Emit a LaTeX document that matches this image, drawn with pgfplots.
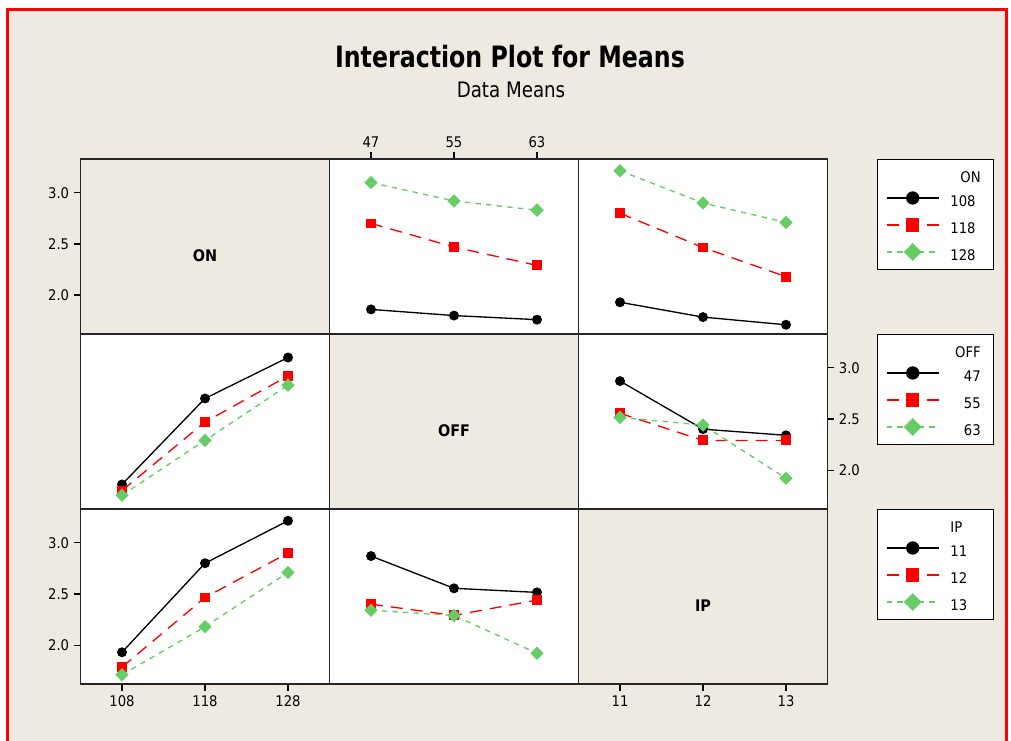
\documentclass[border=0pt]{standalone}
\usepackage{pgfplots}
\pgfplotsset{compat=1.18}
\usepackage{fontspec}
\setmainfont{DejaVu Sans Condensed}
\definecolor{bg}{RGB}{238,234,225}
\definecolor{mgreen}{RGB}{102,204,102}
\definecolor{mred}{RGB}{255,0,0}
\newcommand{\lgl}[1]{\rule[-6.125pt]{0pt}{20.25pt}\hspace*{-1pt}\makebox[32.5pt][l]{#1}}
\newcommand{\lgr}[1]{\rule[-6.125pt]{0pt}{20.25pt}\makebox[21.75pt][r]{#1}\hspace*{9.75pt}}
\pgfplotsset{
  panel/.style={scale only axis, width=186.75pt, height=131.25pt, anchor=south west,
    ymin=1.62, ymax=3.33, xtick=\empty, ytick=\empty,
    axis line style={line width=1.1pt, black!85},
    tick style={line width=0.9pt, black}, major tick length=5pt, tick align=outside,
    tick label style={font=\fontsize{11}{13}\selectfont},
    axis background/.style={fill=white},
    legend cell align=left,
    legend image code/.code={%
      \path[draw=none,fill=none] (-6.75pt,-10.125pt) rectangle (48.75pt,10.125pt);
      \draw[mark repeat=2,mark phase=2,##1,every mark/.append style={scale=1.4}] plot coordinates {(0pt,0pt)(19.5pt,0pt)(39pt,0pt)};},
    legend style={draw=black, line width=1pt, fill=white, at={(1.199,1)}, anchor=north west,
      font=\fontsize{11}{13}\selectfont, inner xsep=0pt, inner ysep=3pt,
      row sep=0pt, column sep=0pt, nodes={inner sep=0pt}},
  },
  diag/.style={panel, axis background/.style={fill=bg}},
  sA/.style={black, line width=1pt, mark=*, mark size=3.2pt, mark options={solid}},
  sB/.style={mred, line width=1pt, dash pattern=on 9pt off 6pt, mark=square*, mark size=3.2pt, mark options={solid}},
  sC/.style={mgreen, line width=1pt, dash pattern=on 4pt off 4pt, mark=diamond*, mark size=4.3pt, mark options={solid,xscale=1.33}},
  onx/.style={xmin=103, xmax=133},
  offx/.style={xmin=43, xmax=67},
  ipx/.style={xmin=10.5, xmax=13.5},
}
\begin{document}
\begin{tikzpicture}
\path[use as bounding box] (0,0) rectangle (758.25pt,555.75pt);
\fill[white] (0,0) rectangle (758.25pt,555.75pt);
\fill[bg] (6.75pt,0) rectangle (753.75pt,547.5pt);
\fill[mred] (4.5pt,0) rectangle (6.75pt,549.75pt);
\fill[mred] (4.5pt,547.5pt) rectangle (756pt,549.75pt);
\fill[mred] (753.75pt,0) rectangle (756pt,549.75pt);

\node at (382.5pt,513pt) {\fontsize{21}{25}\selectfont\bfseries\scalebox{0.94}[1.05]{Interaction Plot for Means}};
\node at (383.25pt,488.25pt) {\fontsize{16}{19}\selectfont\scalebox{0.95}[1]{Data Means}};

% ---------------- Row 1 ----------------
\begin{axis}[diag, at={(60.375pt,305.25pt)}, onx, ytick={2.0,2.5,3.0}, yticklabels={2.0,2.5,3.0}, ytick pos=left]
\node at (rel axis cs:0.5,0.45) {\fontsize{12}{14}\selectfont\bfseries ON};
\end{axis}

\begin{axis}[panel, at={(247.125pt,305.25pt)}, offx, xtick={47,55,63}, xticklabels={47,55,63}, xtick pos=upper, xticklabel pos=upper]
\addplot[sA] coordinates {(47,1.86) (55,1.80) (63,1.76)};
\addplot[sB] coordinates {(47,2.70) (55,2.47) (63,2.29)};
\addplot[sC] coordinates {(47,3.10) (55,2.92) (63,2.83)};
\end{axis}

\begin{axis}[panel, at={(433.875pt,305.25pt)}, ipx]
\addlegendimage{empty legend}
\addplot[sA] coordinates {(11,1.93) (12,1.785) (13,1.71)};
\addplot[sB] coordinates {(11,2.80) (12,2.465) (13,2.18)};
\addplot[sC] coordinates {(11,3.215) (12,2.90) (13,2.71)};
\legend{\lgr{ON},\lgl{108},\lgl{118},\lgl{128}}
\end{axis}

% ---------------- Row 2 ----------------
\begin{axis}[panel, at={(60.375pt,174pt)}, onx]
\addplot[sA] coordinates {(108,1.86) (118,2.70) (128,3.10)};
\addplot[sB] coordinates {(108,1.80) (118,2.47) (128,2.92)};
\addplot[sC] coordinates {(108,1.755) (118,2.29) (128,2.83)};
\end{axis}

\begin{axis}[diag, at={(247.125pt,174pt)}, offx]
\node at (rel axis cs:0.5,0.45) {\fontsize{12}{14}\selectfont\bfseries OFF};
\end{axis}

\begin{axis}[panel, at={(433.875pt,174pt)}, ipx, ytick={2.0,2.5,3.0}, yticklabels={2.0,2.5,3.0}, ytick pos=right, yticklabel pos=right]
\addlegendimage{empty legend}
\addplot[sA] coordinates {(11,2.87) (12,2.40) (13,2.34)};
\addplot[sB] coordinates {(11,2.555) (12,2.29) (13,2.29)};
\addplot[sC] coordinates {(11,2.515) (12,2.44) (13,1.92)};
\legend{\lgr{OFF},\lgr{47},\lgr{55},\lgr{63}}
\end{axis}

% ---------------- Row 3 ----------------
\begin{axis}[panel, at={(60.375pt,42.75pt)}, onx, ytick={2.0,2.5,3.0}, yticklabels={2.0,2.5,3.0}, ytick pos=left,
  xtick={108,118,128}, xticklabels={108,118,128}, xtick pos=lower, xticklabel pos=lower]
\addplot[sA] coordinates {(108,1.93) (118,2.80) (128,3.215)};
\addplot[sB] coordinates {(108,1.785) (118,2.465) (128,2.90)};
\addplot[sC] coordinates {(108,1.71) (118,2.18) (128,2.71)};
\end{axis}

\begin{axis}[panel, at={(247.125pt,42.75pt)}, offx]
\addplot[sA] coordinates {(47,2.87) (55,2.555) (63,2.515)};
\addplot[sB] coordinates {(47,2.40) (55,2.29) (63,2.44)};
\addplot[sC] coordinates {(47,2.34) (55,2.29) (63,1.92)};
\end{axis}

\begin{axis}[diag, at={(433.875pt,42.75pt)}, ipx, xtick={11,12,13}, xticklabels={11,12,13}, xtick pos=lower, xticklabel pos=lower]
\node at (rel axis cs:0.5,0.45) {\fontsize{12}{14}\selectfont\bfseries IP};
\addlegendimage{empty legend}
\addlegendimage{sA}
\addlegendimage{sB}
\addlegendimage{sC}
\legend{\lgl{IP},\lgl{11},\lgl{12},\lgl{13}}
\end{axis}
\end{tikzpicture}
\end{document}
